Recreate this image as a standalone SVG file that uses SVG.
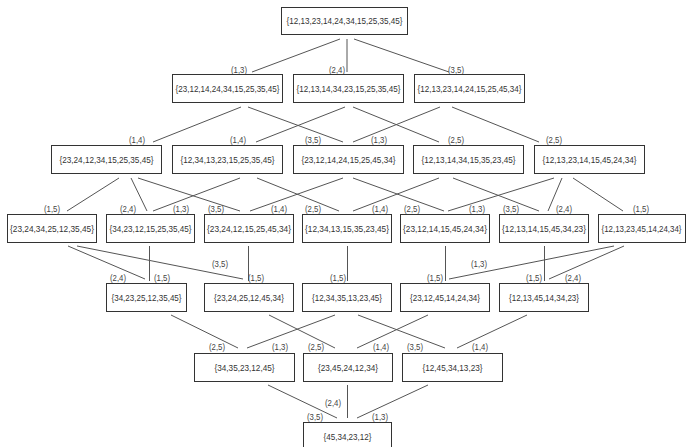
<svg xmlns="http://www.w3.org/2000/svg" width="686" height="447" viewBox="0 0 686 447">
<style>
.b{fill:#fff;stroke:#333;stroke-width:1}
.t{font-family:"Liberation Sans",Arial,sans-serif;font-size:9px;fill:#333;text-anchor:middle}
.l{font-family:"Liberation Sans",Arial,sans-serif;font-size:9px;fill:#444;text-anchor:middle}
.e{stroke:#555;stroke-width:1;fill:none}
</style>
<rect width="686" height="447" fill="#fff"/>
<g id="connectors" class="e">
<path d="M340,39 L252,72"/><path d="M347,39 L347,72"/><path d="M354,39 L449,72"/>
<path d="M241,107 L153,142"/><path d="M248,107 L343,142"/><path d="M345,107 L256,142"/><path d="M353,107 L439,142"/><path d="M440,107 L353,142"/><path d="M452,107 L539,142"/>
<path d="M119,178 L67,211"/><path d="M131,178 L147,211"/><path d="M138,178 L240,211"/><path d="M240,178 L153,211"/><path d="M257,178 L339,211"/><path d="M343,178 L250,211"/><path d="M353,178 L444,211"/><path d="M439,178 L353,211"/><path d="M453,178 L539,211"/><path d="M554,178 L448,211"/><path d="M562,178 L548,211"/><path d="M573,178 L623,211"/>
<path d="M68,246 L145,279"/><path d="M77,246 L243,279"/><path d="M149.5,246 L149.5,281"/><path d="M248.5,246 L248.5,281"/><path d="M347.5,246 L347.5,281"/><path d="M445.5,246 L445.5,281"/><path d="M544.5,246 L544.5,281"/><path d="M614,246 L449,279"/><path d="M624,246 L549,279"/>
<path d="M171,315 L238,348"/><path d="M269,315 L335,348"/><path d="M335,315 L247,348"/><path d="M358,315 L445,348"/><path d="M428,315 L357,348"/><path d="M527,315 L457,348"/>
<path d="M268,385 L337,418"/><path d="M347.5,385 L347.5,418"/><path d="M428,385 L357,418"/>
</g>
<g id="labels">
<text class="l" x="239" y="73" textLength="16" lengthAdjust="spacingAndGlyphs">(1,3)</text>
<text class="l" x="337" y="73" textLength="16" lengthAdjust="spacingAndGlyphs">(2,4)</text>
<text class="l" x="456" y="73" textLength="16" lengthAdjust="spacingAndGlyphs">(3,5)</text>
<text class="l" x="137" y="143" textLength="16" lengthAdjust="spacingAndGlyphs">(1,4)</text>
<text class="l" x="238" y="143" textLength="16" lengthAdjust="spacingAndGlyphs">(1,4)</text>
<text class="l" x="313" y="143" textLength="16" lengthAdjust="spacingAndGlyphs">(3,5)</text>
<text class="l" x="379" y="143" textLength="16" lengthAdjust="spacingAndGlyphs">(1,3)</text>
<text class="l" x="456" y="143" textLength="16" lengthAdjust="spacingAndGlyphs">(2,5)</text>
<text class="l" x="554" y="143" textLength="16" lengthAdjust="spacingAndGlyphs">(2,5)</text>
<text class="l" x="52" y="212" textLength="16" lengthAdjust="spacingAndGlyphs">(1,5)</text>
<text class="l" x="128" y="212" textLength="16" lengthAdjust="spacingAndGlyphs">(2,4)</text>
<text class="l" x="181" y="212" textLength="16" lengthAdjust="spacingAndGlyphs">(1,3)</text>
<text class="l" x="216" y="212" textLength="16" lengthAdjust="spacingAndGlyphs">(3,5)</text>
<text class="l" x="279" y="212" textLength="16" lengthAdjust="spacingAndGlyphs">(1,4)</text>
<text class="l" x="313" y="212" textLength="16" lengthAdjust="spacingAndGlyphs">(2,5)</text>
<text class="l" x="380" y="212" textLength="16" lengthAdjust="spacingAndGlyphs">(1,4)</text>
<text class="l" x="412" y="212" textLength="16" lengthAdjust="spacingAndGlyphs">(2,5)</text>
<text class="l" x="477" y="212" textLength="16" lengthAdjust="spacingAndGlyphs">(1,3)</text>
<text class="l" x="511" y="212" textLength="16" lengthAdjust="spacingAndGlyphs">(3,5)</text>
<text class="l" x="564" y="212" textLength="16" lengthAdjust="spacingAndGlyphs">(2,4)</text>
<text class="l" x="641" y="212" textLength="16" lengthAdjust="spacingAndGlyphs">(1,5)</text>
<text class="l" x="118" y="281" textLength="16" lengthAdjust="spacingAndGlyphs">(2,4)</text>
<text class="l" x="162" y="281" textLength="16" lengthAdjust="spacingAndGlyphs">(1,5)</text>
<text class="l" x="220" y="267" textLength="16" lengthAdjust="spacingAndGlyphs">(3,5)</text>
<text class="l" x="256" y="281" textLength="16" lengthAdjust="spacingAndGlyphs">(1,5)</text>
<text class="l" x="338" y="281" textLength="16" lengthAdjust="spacingAndGlyphs">(1,5)</text>
<text class="l" x="435" y="281" textLength="16" lengthAdjust="spacingAndGlyphs">(1,5)</text>
<text class="l" x="479" y="267" textLength="16" lengthAdjust="spacingAndGlyphs">(1,3)</text>
<text class="l" x="534" y="281" textLength="16" lengthAdjust="spacingAndGlyphs">(1,5)</text>
<text class="l" x="573" y="281" textLength="16" lengthAdjust="spacingAndGlyphs">(2,4)</text>
<text class="l" x="217" y="350" textLength="16" lengthAdjust="spacingAndGlyphs">(2,5)</text>
<text class="l" x="280" y="350" textLength="16" lengthAdjust="spacingAndGlyphs">(1,3)</text>
<text class="l" x="316" y="350" textLength="16" lengthAdjust="spacingAndGlyphs">(2,5)</text>
<text class="l" x="381" y="350" textLength="16" lengthAdjust="spacingAndGlyphs">(1,4)</text>
<text class="l" x="415" y="350" textLength="16" lengthAdjust="spacingAndGlyphs">(3,5)</text>
<text class="l" x="480" y="350" textLength="16" lengthAdjust="spacingAndGlyphs">(1,4)</text>
<text class="l" x="315" y="420" textLength="16" lengthAdjust="spacingAndGlyphs">(3,5)</text>
<text class="l" x="333" y="406" textLength="16" lengthAdjust="spacingAndGlyphs">(2,4)</text>
<text class="l" x="380" y="420" textLength="16" lengthAdjust="spacingAndGlyphs">(1,3)</text>
</g>
<g id="n0"><rect class="b" x="281.5" y="7.5" width="126" height="27"/><text class="t" x="344.5" y="24" textLength="116" lengthAdjust="spacingAndGlyphs">{12,13,23,14,24,34,15,25,35,45}</text></g>
<g id="n1"><rect class="b" x="172.5" y="74.5" width="110" height="28"/><text class="t" x="227.5" y="92" textLength="104" lengthAdjust="spacingAndGlyphs">{23,12,14,24,34,15,25,35,45}</text></g>
<g id="n2"><rect class="b" x="293.5" y="74.5" width="110" height="28"/><text class="t" x="348.5" y="92" textLength="104" lengthAdjust="spacingAndGlyphs">{12,13,14,34,23,15,25,35,45}</text></g>
<g id="n3"><rect class="b" x="414.5" y="74.5" width="110" height="28"/><text class="t" x="469.5" y="92" textLength="104" lengthAdjust="spacingAndGlyphs">{12,13,23,14,24,15,25,45,34}</text></g>
<g id="n4"><rect class="b" x="51.5" y="145.5" width="110" height="28"/><text class="t" x="106.5" y="163" textLength="94" lengthAdjust="spacingAndGlyphs">{23,24,12,34,15,25,35,45}</text></g>
<g id="n5"><rect class="b" x="172.5" y="145.5" width="110" height="28"/><text class="t" x="227.5" y="163" textLength="94" lengthAdjust="spacingAndGlyphs">{12,34,13,23,15,25,35,45}</text></g>
<g id="n6"><rect class="b" x="293.5" y="145.5" width="110" height="28"/><text class="t" x="348.5" y="163" textLength="94" lengthAdjust="spacingAndGlyphs">{23,12,14,24,15,25,45,34}</text></g>
<g id="n7"><rect class="b" x="413.5" y="145.5" width="110" height="28"/><text class="t" x="468.5" y="163" textLength="94" lengthAdjust="spacingAndGlyphs">{12,13,14,34,15,35,23,45}</text></g>
<g id="n8"><rect class="b" x="534.5" y="145.5" width="110" height="28"/><text class="t" x="589.5" y="163" textLength="94" lengthAdjust="spacingAndGlyphs">{12,13,23,14,15,45,24,34}</text></g>
<g id="n9"><rect class="b" x="7.5" y="214.5" width="89" height="28"/><text class="t" x="52" y="232" textLength="84" lengthAdjust="spacingAndGlyphs">{23,24,34,25,12,35,45}</text></g>
<g id="n10"><rect class="b" x="106.5" y="214.5" width="88" height="28"/><text class="t" x="150.5" y="232" textLength="82" lengthAdjust="spacingAndGlyphs">{34,23,12,15,25,35,45}</text></g>
<g id="n11"><rect class="b" x="204.5" y="214.5" width="89" height="28"/><text class="t" x="249" y="232" textLength="84" lengthAdjust="spacingAndGlyphs">{23,24,12,15,25,45,34}</text></g>
<g id="n12"><rect class="b" x="302.5" y="214.5" width="89" height="28"/><text class="t" x="347" y="232" textLength="84" lengthAdjust="spacingAndGlyphs">{12,34,13,15,35,23,45}</text></g>
<g id="n13"><rect class="b" x="400.5" y="214.5" width="89" height="28"/><text class="t" x="445" y="232" textLength="84" lengthAdjust="spacingAndGlyphs">{23,12,14,15,45,24,34}</text></g>
<g id="n14"><rect class="b" x="499.5" y="214.5" width="89" height="28"/><text class="t" x="544" y="232" textLength="84" lengthAdjust="spacingAndGlyphs">{12,13,14,15,45,34,23}</text></g>
<g id="n15"><rect class="b" x="598.5" y="214.5" width="87" height="28"/><text class="t" x="641.5" y="232" font-size="8.4" style="font-size:8.4px" textLength="80" lengthAdjust="spacingAndGlyphs">{12,13,23,45,14,24,34}</text></g>
<g id="n16"><rect class="b" x="106.5" y="283.5" width="80" height="28"/><text class="t" x="146.5" y="301" textLength="70" lengthAdjust="spacingAndGlyphs">{34,23,25,12,35,45}</text></g>
<g id="n17"><rect class="b" x="204.5" y="283.5" width="89" height="28"/><text class="t" x="249" y="301" textLength="70" lengthAdjust="spacingAndGlyphs">{23,24,25,12,45,34}</text></g>
<g id="n18"><rect class="b" x="302.5" y="283.5" width="89" height="28"/><text class="t" x="347" y="301" textLength="70" lengthAdjust="spacingAndGlyphs">{12,34,35,13,23,45}</text></g>
<g id="n19"><rect class="b" x="400.5" y="283.5" width="89" height="28"/><text class="t" x="445" y="301" textLength="70" lengthAdjust="spacingAndGlyphs">{23,12,45,14,24,34}</text></g>
<g id="n20"><rect class="b" x="499.5" y="283.5" width="89" height="28"/><text class="t" x="544" y="301" textLength="70" lengthAdjust="spacingAndGlyphs">{12,13,45,14,34,23}</text></g>
<g id="n21"><rect class="b" x="194.5" y="353.5" width="100" height="28"/><text class="t" x="244.5" y="371" textLength="60" lengthAdjust="spacingAndGlyphs">{34,35,23,12,45}</text></g>
<g id="n22"><rect class="b" x="303.5" y="353.5" width="89" height="28"/><text class="t" x="348" y="371" textLength="60" lengthAdjust="spacingAndGlyphs">{23,45,24,12,34}</text></g>
<g id="n23"><rect class="b" x="402.5" y="353.5" width="100" height="28"/><text class="t" x="452.5" y="371" textLength="60" lengthAdjust="spacingAndGlyphs">{12,45,34,13,23}</text></g>
<g id="n24"><rect class="b" x="303.5" y="422.5" width="88" height="30"/><text class="t" x="347.5" y="440" textLength="48" lengthAdjust="spacingAndGlyphs">{45,34,23,12}</text></g>
</svg>
